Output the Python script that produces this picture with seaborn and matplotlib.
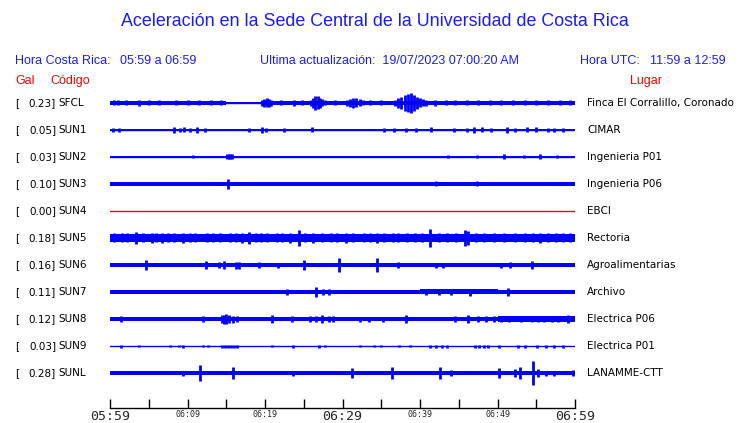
import matplotlib
matplotlib.use("Agg")
import matplotlib.pyplot as plt
import numpy as np
import seaborn as sns

sns.set_theme(style="white")
plt.rcParams["font.family"] = ["DejaVu Sans"]

# station table
codes = ["SFCL", "SUN1", "SUN2", "SUN3", "SUN4", "SUN5", "SUN6", "SUN7", "SUN8", "SUN9", "SUNL"]
gals = [0.23, 0.05, 0.03, 0.10, 0.00, 0.18, 0.16, 0.11, 0.12, 0.03, 0.28]
places = ["Finca El Corralillo, Coronado", "CIMAR", "Ingenieria P01", "Ingenieria P06", "EBCI",
          "Rectoria", "Agroalimentarias", "Archivo", "Electrica P06", "Electrica P01", "LANAMME-CTT"]

# background amplitude per 5-minute block (minutes 0-60 after 05:59)
base_amp = {
    "SFCL": [2.0, 2.0, 1.8, 0.6, 2.0, 2.0, 2.2, 2.4, 1.8, 1.8, 1.8, 1.8],
    "SUN1": [0.5] * 12,
    "SUN2": [0.5] * 12,
    "SUN3": [2.0] * 12,
    "SUN4": [0.0] * 12,
    "SUN5": [3.8, 3.8, 3.6, 3.8, 3.8, 3.8, 3.6, 3.6, 3.8, 4.0, 3.8, 3.8],
    "SUN6": [1.8] * 12,
    "SUN7": [1.9, 1.9, 1.9, 1.9, 2.0, 2.3, 2.0, 1.9, 2.5, 2.5, 2.3, 2.1],
    "SUN8": [2.0, 2.0, 2.0, 2.2, 2.2, 2.4, 2.2, 2.2, 2.0, 2.4, 2.6, 2.6],
    "SUN9": [0.5] * 12,
    "SUNL": [2.2] * 12,
}

# peaks: time (min) and half amplitude
spike_t = {
    "SFCL": [1.0, 3.7, 19.6, 19.9, 20.2, 20.5, 20.8, 23.8, 25.9, 26.2, 26.5, 26.8, 27.1, 27.4, 27.7,
             30.6, 31.0, 31.4, 31.8, 32.2, 32.6, 36.8, 37.2, 37.6, 38.0, 38.4, 38.8, 39.2, 39.6,
             40.0, 40.4, 40.8, 41.9,
             0.5, 2.0, 5.0, 6.3, 8.5, 10.0, 11.5, 13.0, 14.3, 22.0, 24.8, 29.0, 33.5, 35.0,
             43.3, 44.5, 46.0, 47.5, 49.0, 50.5, 52.0, 53.5, 55.0, 56.5, 58.0, 59.3],
    "SUN1": [0.4, 1.2, 8.2, 9.0, 9.5, 10.3, 11.2, 12.2, 17.9, 19.6, 20.1, 22.4, 26.1, 35.4, 36.6,
             38.2, 39.5, 41.4, 44.4, 46.0, 47.0, 48.0, 49.2, 51.2, 52.2, 53.8, 55.0, 56.5, 57.3, 58.5],
    "SUN2": [10.7, 15.1, 15.3, 15.5, 15.7, 43.6, 47.4, 50.8, 53.4, 55.5, 57.7],
    "SUN3": [15.2, 42.1, 47.4],
    "SUN4": [],
    "SUN5": [3.3, 5.4, 6.7, 9.4, 14.2, 17.0, 17.9, 23.2, 24.4, 26.2, 30.5, 34.4, 41.3, 45.8, 46.2, 55.5,
             0.5, 1.5, 2.2, 4.2, 5.9, 7.5, 8.3, 10.3, 11.0, 12.5, 13.3, 15.5, 16.2, 18.8, 19.5, 20.3,
             21.5, 22.2, 25.2, 27.3, 28.5, 29.3, 31.4, 32.8, 33.6, 35.3, 36.5, 37.2, 38.3, 39.4,
             40.3, 42.4, 43.5, 44.6, 47.2, 48.3, 49.5, 50.8, 52.2, 53.5, 54.6, 56.5, 57.6, 58.5, 59.4],
    "SUN6": [4.6, 12.4, 14.1, 14.7, 16.3, 16.7, 19.2, 21.7, 25.0, 29.6, 34.4, 37.2, 42.1, 43.0,
             50.5, 51.6, 54.4],
    "SUN7": [22.8, 26.6, 27.5, 28.3, 40.8, 42.5, 44.0, 46.4, 51.4],
    "SUN8": [1.4, 12.0, 14.4, 14.7, 15.0, 15.4, 15.9, 16.4, 20.9, 23.5, 25.8, 26.6, 27.4, 28.2,
             28.8, 32.3, 33.4, 35.2, 38.2, 46.2, 49.5, 53.0, 56.0, 59.1,
             44.5, 47.5, 48.5, 50.5, 51.5, 54.5, 55.2, 57.0, 57.8],
    "SUN9": [1.4, 3.7, 7.7, 8.9, 9.4, 12.0, 12.6, 14.4, 14.8, 15.2, 15.6, 16.0, 16.4, 20.9, 23.6,
             27.0, 27.7, 32.3, 34.0, 35.0, 37.3, 38.7, 41.3, 42.0, 42.8, 43.5, 47.1, 47.6, 48.3,
             48.8, 50.2, 52.6, 53.5, 55.1, 56.2, 57.3, 58.5],
    "SUNL": [9.4, 11.6, 15.9, 23.6, 31.2, 36.4, 42.6, 44.0, 50.2, 52.3, 52.9, 54.6, 55.2, 56.2,
             57.3, 59.7],
}
spike_a = {
    "SFCL": [2.5, 3.0, 3.0, 4.0, 4.5, 4.0, 3.0, 3.0, 3.0, 5.0, 7.0, 6.5, 5.0, 3.5, 2.5,
             3.0, 4.0, 5.0, 4.5, 3.5, 2.5, 3.0, 5.0, 6.0, 8.0, 9.0, 10.0, 8.0, 6.0,
             4.5, 3.5, 3.0, 3.0,
             2.5, 2.5, 2.5, 2.5, 2.5, 2.5, 2.5, 2.5, 2.5, 2.5, 2.5, 2.5, 2.5, 2.5,
             2.5, 2.5, 2.5, 2.5, 2.5, 2.5, 2.5, 2.5, 2.5, 2.5, 2.5, 2.5],
    "SUN1": [2.0, 2.0, 3.0, 2.0, 2.5, 2.0, 3.0, 2.0, 2.0, 3.0, 2.0, 2.0, 2.5, 2.0, 2.0,
             2.0, 2.0, 2.5, 2.0, 2.0, 3.0, 2.5, 2.0, 3.0, 2.0, 2.5, 2.5, 2.0, 2.0, 2.0],
    "SUN2": [1.5, 2.5, 2.5, 2.5, 2.5, 1.5, 1.5, 2.5, 1.5, 2.5, 1.5],
    "SUN3": [5.0, 2.5, 2.5],
    "SUN4": [],
    "SUN5": [6.0, 5.0, 5.0, 5.0, 4.5, 5.0, 6.0, 5.0, 8.0, 5.0, 5.0, 5.0, 9.0, 8.0, 7.0, 5.0,
             4.5, 4.5, 4.5, 4.5, 4.5, 4.5, 4.5, 4.5, 4.5, 4.5, 4.5, 4.5, 4.5, 4.5, 4.5, 4.5,
             4.5, 4.5, 4.5, 4.5, 4.5, 4.5, 4.5, 4.5, 4.5, 4.5, 4.5, 4.5, 4.5, 4.5,
             4.5, 4.5, 4.5, 4.5, 4.5, 4.5, 4.5, 4.5, 4.5, 4.5, 4.5, 4.5, 4.5, 4.5, 4.5],
    "SUN6": [5.0, 4.0, 3.0, 4.0, 3.5, 3.5, 3.0, 2.5, 5.0, 7.0, 7.0, 3.0, 2.5, 2.5,
             2.5, 3.0, 4.0],
    "SUN7": [3.0, 5.0, 3.0, 3.0, 2.5, 2.5, 2.5, 3.5, 4.0],
    "SUN8": [3.0, 3.0, 4.0, 4.5, 5.0, 4.0, 3.5, 3.0, 4.0, 3.0, 3.0, 3.0, 4.0, 3.0,
             3.0, 2.5, 2.5, 2.5, 4.0, 4.0, 3.0, 3.0, 3.0, 4.0,
             3.0, 3.0, 3.0, 3.0, 3.0, 3.0, 3.0, 3.0, 3.0],
    "SUN9": [1.5, 1.0, 1.0, 1.0, 1.5, 1.0, 1.0, 1.5, 1.5, 1.5, 1.5, 1.5, 1.5, 1.0, 1.5,
             1.5, 1.0, 1.0, 1.0, 1.0, 1.0, 1.0, 1.5, 1.5, 1.5, 1.5, 1.5, 1.5, 1.5,
             1.5, 1.5, 1.5, 1.5, 1.5, 1.5, 1.5, 1.5],
    "SUNL": [2.5, 8.0, 6.0, 2.5, 5.0, 6.0, 6.0, 3.0, 5.0, 4.0, 6.0, 12.0, 4.0, 2.5,
             2.5, 3.0],
}

tick_min = list(range(0, 61, 5))
tick_labels = ["05:59", "", "06:09", "", "06:19", "", "06:29", "", "06:39", "", "06:49", "", "06:59"]

blue = "#0000ff"
text_blue = "#1c1cf0"
red = "#ff0000"
row_gap = 27

fig = plt.figure(figsize=(7.4, 4.23), dpi=100)
ax = fig.add_axes([110 / 740, 15 / 423, 465 / 740, 318 / 423])

minutes = np.arange(0, 61)
for i, code in enumerate(codes):
    y0 = -i * row_gap
    col = red if code == "SUN4" else blue
    w = np.append(np.repeat(base_amp[code], 5), base_amp[code][-1])
    ax.fill_between(minutes, y0 - w, y0 + w, step="post", color=col, lw=0)
    sns.lineplot(x=[0, 60], y=[y0, y0], ax=ax, color=col, lw=1.0)
    t = np.array(spike_t[code])
    a = np.array(spike_a[code])
    if len(t):
        ax.vlines(t, y0 - a, y0 + a, color=col, lw=2.0)

ax.set_xlim(0, 60)
ax.set_ylim(-305, 13)
ax.set_yticks([])
ax.set_xticks(tick_min)
ax.set_xticklabels(tick_labels, family="DejaVu Sans Mono")
for k, lab in enumerate(ax.get_xticklabels()):
    lab.set_fontsize(9.5 if k in (0, 6, 12) else 6)
ax.tick_params(axis="x", bottom=True, direction="in", length=6.5, width=1, color="black", pad=1.5)
for side in ["top", "left", "right"]:
    ax.spines[side].set_visible(False)
ax.spines["bottom"].set_color("black")
ax.spines["bottom"].set_linewidth(1)
ax.patch.set_alpha(0)

def px(x, y):
    return x / 740, 1 - y / 423

fig.text(*px(375, 22), "Aceleración en la Sede Central de la Universidad de Costa Rica",
         color=text_blue, fontsize=12.9, ha="center", va="center", family="Liberation Sans")
hdr = dict(color=text_blue, fontsize=9, va="center", family="Liberation Sans")
fig.text(*px(15, 61), "Hora Costa Rica:", **hdr)
fig.text(*px(120, 61), "05:59 a 06:59", **hdr)
fig.text(*px(260, 61), "Ultima actualización:  19/07/2023 07:00:20 AM", **hdr)
fig.text(*px(580, 61), "Hora UTC:", **hdr)
fig.text(*px(650, 61), "11:59 a 12:59", **hdr)
red_kw = dict(color=red, fontsize=9, va="center", family="Liberation Sans")
fig.text(*px(15, 81), "Gal", **red_kw)
fig.text(*px(50, 81), "Código", **red_kw)
fig.text(*px(630, 81), "Lugar", **red_kw)

for i, code in enumerate(codes):
    yp = 103 + i * row_gap
    fig.text(*px(15, yp), "[", fontsize=7.5, va="center", color="black")
    fig.text(*px(56, yp), f"{gals[i]:.2f}]", fontsize=7.5, va="center", ha="right", color="black")
    fig.text(*px(58, yp), code, fontsize=7.5, va="center", color="black")
    fig.text(*px(587, yp), places[i], fontsize=7.5, va="center", color="black")

fig.savefig("out.png", dpi=100)
